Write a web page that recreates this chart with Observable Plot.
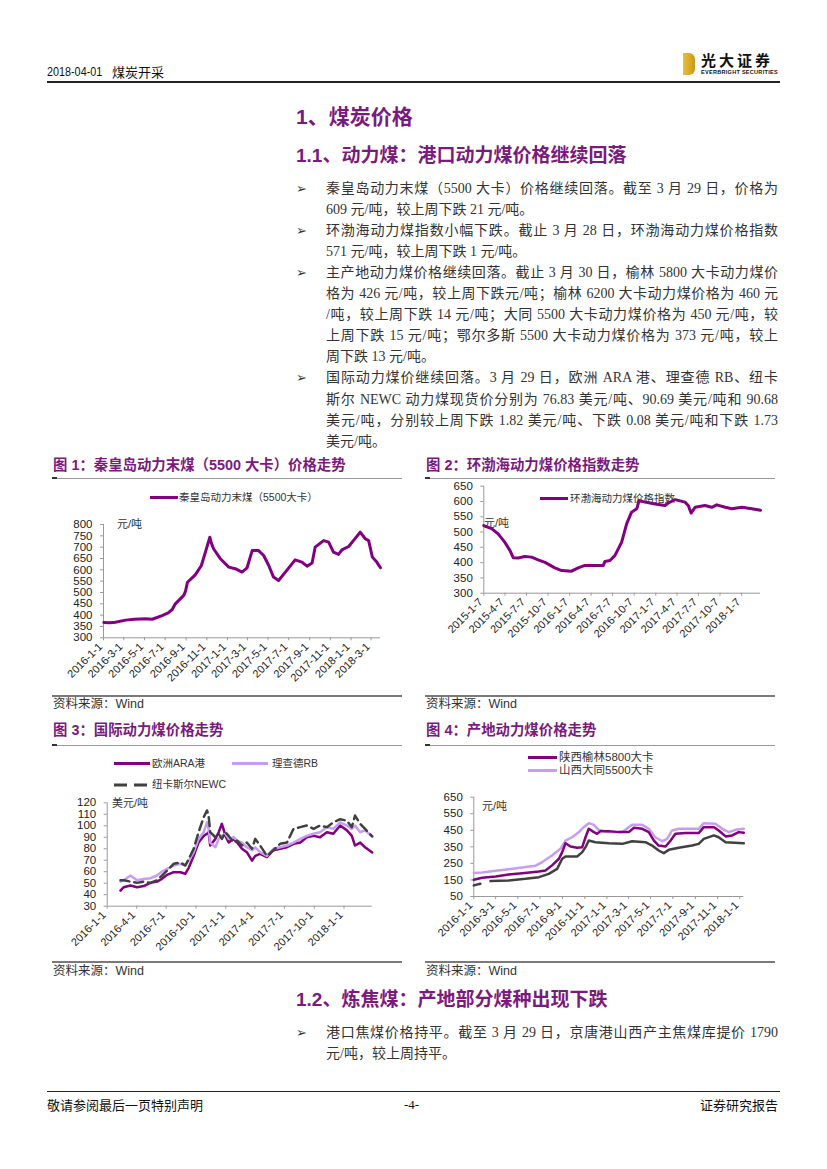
<!DOCTYPE html>
<html><head><meta charset="utf-8">
<script src="https://cdn.jsdelivr.net/npm/d3@7"></script>
<script src="https://cdn.jsdelivr.net/npm/@observablehq/plot@0.6"></script>
<style>
body{margin:0;background:#fff;}
#page{position:relative;width:827px;height:1169px;background:#fff;overflow:hidden;font-family:"Liberation Serif","Noto Sans CJK SC",serif;color:#333;}
.abs{position:absolute;white-space:nowrap;}
.h{color:#7B1A7E;font-family:"Liberation Sans","Noto Sans CJK SC",sans-serif;font-weight:bold;}
.line{position:absolute;left:326px;width:452px;height:21px;line-height:21px;font-size:14px;text-align:justify;text-align-last:justify;}
.line.last{text-align-last:left;}
.bul{position:absolute;left:296px;font-size:13px;line-height:21px;font-family:"DejaVu Sans",sans-serif;color:#333;}
.ct{position:absolute;font-size:14.4px;line-height:18px;}
.sep{position:absolute;height:1px;background:#9a9a9a;}
.sep2{position:absolute;height:2px;background:#7a7a7a;}
.src{position:absolute;font-size:12.5px;line-height:16px;font-family:"Liberation Sans","Noto Sans CJK SC",sans-serif;color:#333;}
.lg{position:absolute;font-size:10.5px;line-height:14px;font-family:"Liberation Sans","Noto Sans CJK SC",sans-serif;color:#333;white-space:nowrap;}
.sw{position:absolute;height:3px;}
.unit{position:absolute;font-size:11px;line-height:14px;font-family:"Liberation Sans","Noto Sans CJK SC",sans-serif;color:#333;white-space:nowrap;}
</style></head>
<body><div id="page"></div>
<script>
// ---------------- data ----------------
// 图1 秦皇岛动力末煤(5500大卡) 元/吨
const qhdDates = ["2016-01-02","2016-01-20","2016-02-05","2016-03-06","2016-04-01","2016-05-04","2016-05-24","2016-06-22","2016-07-10","2016-07-22","2016-07-31","2016-08-25","2016-08-30","2016-09-05","2016-09-28","2016-10-16","2016-10-28","2016-11-10","2016-11-14","2016-11-21","2016-12-11","2017-01-05","2017-01-24","2017-02-13","2017-02-28","2017-03-15","2017-04-03","2017-04-18","2017-05-03","2017-05-17","2017-06-01","2017-06-21","2017-07-20","2017-08-09","2017-08-24","2017-09-08","2017-09-17","2017-10-12","2017-10-27","2017-11-10","2017-11-25","2017-12-05","2017-12-25","2018-01-08","2018-01-28","2018-02-12","2018-02-22","2018-03-05","2018-03-18","2018-03-29"];
const qhdValues = [368,366,369,378,382,384,382,398,410,425,450,487,505,545,578,619,678,744,720,693,649,612,605,590,609,685,685,663,619,568,553,590,644,634,616,630,700,729,722,678,668,688,703,729,766,737,729,656,634,609];
const x1Ticks = ["2016-1-1","2016-3-1","2016-5-1","2016-7-1","2016-9-1","2016-11-1","2017-1-1","2017-3-1","2017-5-1","2017-7-1","2017-9-1","2017-11-1","2018-1-1","2018-3-1"];
const y1Ticks = [300,350,400,450,500,550,600,650,700,750,800];

// 图2 环渤海动力煤价格指数 元/吨
const hbhDates = ["2015-01-07","2015-02-09","2015-03-09","2015-04-06","2015-04-28","2015-05-12","2015-06-02","2015-06-30","2015-07-29","2015-08-26","2015-09-24","2015-11-05","2015-12-04","2016-01-15","2016-02-12","2016-03-12","2016-05-29","2016-06-05","2016-06-26","2016-07-17","2016-08-15","2016-09-05","2016-09-26","2016-10-18","2016-10-28","2016-11-22","2017-01-04","2017-02-15","2017-03-01","2017-03-30","2017-05-11","2017-05-25","2017-06-06","2017-06-23","2017-08-04","2017-09-02","2017-09-23","2017-10-29","2017-11-26","2018-01-08","2018-02-19","2018-03-28"];
const hbhValues = [521,511,494,467,440,416,415,420,418,409,401,383,374,372,383,391,391,404,407,423,467,527,565,576,603,598,592,587,595,606,598,587,562,581,587,581,589,581,576,581,576,571];
const x2Ticks = ["2015-1-7","2015-4-7","2015-7-7","2015-10-7","2016-1-7","2016-4-7","2016-7-7","2016-10-7","2017-1-7","2017-4-7","2017-7-7","2017-10-7","2018-1-7"];
const y2Ticks = [300,350,400,450,500,550,600,650];

// 图3 国际动力煤 美元/吨
const intlDates = ["2016-02-11","2016-02-21","2016-03-13","2016-04-02","2016-04-23","2016-05-13","2016-06-03","2016-06-18","2016-07-04","2016-07-24","2016-08-14","2016-08-29","2016-09-09","2016-09-24","2016-10-09","2016-10-25","2016-11-04","2016-11-09","2016-11-14","2016-11-30","2016-12-10","2016-12-20","2016-12-31","2017-01-10","2017-01-25","2017-02-05","2017-02-20","2017-03-07","2017-03-23","2017-04-02","2017-04-17","2017-05-08","2017-05-28","2017-06-18","2017-07-09","2017-07-29","2017-08-19","2017-09-08","2017-09-29","2017-10-19","2017-11-09","2017-11-29","2017-12-20","2018-01-10","2018-01-25","2018-02-04","2018-02-20","2018-03-07","2018-03-29"];
const araValues = [43.6,46.5,48,46.5,47.5,50.3,51.4,53.8,57.3,59.6,59.6,58.2,63.6,73.8,85.4,91.2,93,94.4,82.8,88.6,94.4,101.7,91.2,85.4,88.6,85.4,80,77,69.7,73.8,75.6,72.6,78.7,80,81.3,84.3,85.4,90,91.2,90,94.4,93,100.2,96,91.2,82.8,85.4,81.3,76.8];
const rbValues = [51.4,52.6,56.7,52.6,53.7,54.3,56.7,60.2,62.5,65.4,66.9,65.4,69.7,77,88.6,94.4,103,97.3,85.4,81.3,88.6,91.2,93,88.6,90,87,85.4,81.3,78.7,81.3,77,73.8,80,81.3,82.8,85.4,88.6,91.2,93,94.4,98.8,97.3,103,100.2,97.3,100.2,94.4,96,90.7];
const newcValues = [52.6,52.6,51.4,50.3,51.4,50.3,52.6,56.7,61,66.9,68.1,65.4,71.2,80,94.4,107.5,113.3,108.9,94.4,90,93,88.6,94.4,91.2,85.4,87,82.8,85.4,80,88.6,82.8,73.8,78.7,84.3,85.4,97.3,98.8,100.2,97.3,100.2,98.8,103,105.7,104.5,98.8,108.9,101.7,97.3,90.7];
const x3Ticks = ["2016-1-1","2016-4-1","2016-7-1","2016-10-1","2017-1-1","2017-4-1","2017-7-1","2017-10-1","2018-1-1"];
const y3Ticks = [30,40,50,60,70,80,90,100,110,120];

// 图4 产地动力煤 元/吨
const ylDates = ["2016-01-01","2016-01-24","2016-03-01","2016-04-06","2016-05-13","2016-06-28","2016-07-16","2016-08-03","2016-08-22","2016-08-31","2016-09-09","2016-09-23","2016-10-11","2016-10-25","2016-11-03","2016-11-12","2016-11-26","2016-12-05","2016-12-14","2017-01-06","2017-02-02","2017-03-02","2017-03-16","2017-04-08","2017-04-26","2017-05-10","2017-05-23","2017-06-11","2017-06-25","2017-07-08","2017-08-05","2017-09-10","2017-09-24","2017-10-22","2017-11-04","2017-11-23","2017-12-11","2017-12-29","2018-01-12"];
const ylValues = [151,163,171,183,191,201,207,238,278,318,372,352,344,348,408,459,439,429,445,445,439,439,465,459,439,388,358,352,388,429,433,433,469,469,449,413,419,439,435];
const dtDates = ["2016-01-01","2016-01-24","2016-03-01","2016-04-06","2016-05-13","2016-06-19","2016-07-07","2016-08-03","2016-08-26","2016-09-09","2016-09-27","2016-10-16","2016-10-29","2016-11-12","2016-11-26","2016-12-09","2017-01-06","2017-02-12","2017-03-11","2017-04-08","2017-04-26","2017-05-14","2017-06-02","2017-06-15","2017-06-29","2017-07-17","2017-09-10","2017-09-24","2017-10-26","2017-11-14","2017-12-02","2017-12-20","2018-01-12"];
const dtValues = [192,195,205,215,225,236,258,298,338,388,408,439,469,493,483,453,439,439,483,483,459,408,384,398,449,459,459,493,489,459,439,453,459];
const ordDates = ["2016-01-01","2016-01-19","2016-01-30","2016-02-16","2016-04-06","2016-05-22","2016-06-28","2016-07-25","2016-08-17","2016-08-31","2016-09-09","2016-10-11","2016-10-25","2016-11-03","2016-11-12","2016-11-30","2017-01-06","2017-02-12","2017-03-11","2017-04-17","2017-05-05","2017-05-23","2017-06-06","2017-06-20","2017-07-17","2017-08-23","2017-09-10","2017-09-24","2017-10-22","2017-11-04","2017-11-23","2018-01-12"];
const ordValues = [117,127,null,143,147,157,167,187,217,278,292,292,318,348,388,378,372,368,384,378,358,328,312,332,344,358,368,398,419,408,378,372];
const x4Ticks = ["2016-1-1","2016-3-1","2016-5-1","2016-7-1","2016-9-1","2016-11-1","2017-1-1","2017-3-1","2017-5-1","2017-7-1","2017-9-1","2017-11-1","2018-1-1"];
const y4Ticks = [50,150,250,350,450,550,650];

const PURPLE = "#800080", LAV = "#C79DF2", DARK = "#404040";

// ---------------- page text ----------------
const page = document.getElementById("page");
function add(html, cls, style){ const d=document.createElement("div"); d.className=cls||""; d.innerHTML=html; Object.assign(d.style, style||{}); page.appendChild(d); return d; }

// header
add("2018-04-01", "abs", {left:"47px", top:"63px", fontSize:"13.5px", fontFamily:'"Liberation Sans",sans-serif', color:"#111", lineHeight:"18px", transform:"scaleX(0.8)", transformOrigin:"0 0"});
add("煤炭开采", "abs", {left:"112px", top:"63px", fontSize:"13px", fontFamily:'"Noto Sans CJK SC",sans-serif', color:"#111", lineHeight:"18px"});
add("", "abs", {left:"47px", top:"81px", width:"733px", height:"2px", background:"#222"});
// logo
add("", "abs", {left:"683px", top:"53px", width:"12px", height:"22px", background:"linear-gradient(90deg,#e8c13a,#c9981a)", borderRadius:"0 6px 6px 0"});
add("光大证券", "abs", {left:"701px", top:"51px", fontSize:"15px", fontWeight:"bold", letterSpacing:"3px", fontFamily:'"Noto Sans CJK SC",sans-serif', color:"#111", lineHeight:"18px"});
add("EVERBRIGHT SECURITIES", "abs", {left:"701px", top:"69px", fontSize:"5.5px", fontWeight:"bold", fontFamily:'"Liberation Sans",sans-serif', color:"#111", lineHeight:"7px", letterSpacing:"0.3px"});

// headings
add("1、煤炭价格", "abs h", {left:"296px", top:"104px", fontSize:"21px", lineHeight:"26px"});
add("1.1、动力煤：港口动力煤价格继续回落", "abs h", {left:"296px", top:"144px", fontSize:"19px", lineHeight:"24px"});

const bodyLines = [
 ["秦皇岛动力末煤（5500 大卡）价格继续回落。截至 3 月 29 日，价格为", true],
 ["609 元/吨，较上周下跌 21 元/吨。", false],
 ["环渤海动力煤指数小幅下跌。截止 3 月 28 日，环渤海动力煤价格指数", true],
 ["571 元/吨，较上周下跌 1 元/吨。", false],
 ["主产地动力煤价格继续回落。截止 3 月 30 日，榆林 5800 大卡动力煤价", true],
 ["格为 426 元/吨，较上周下跌元/吨；榆林 6200 大卡动力煤价格为 460 元", true],
 ["/吨，较上周下跌 14 元/吨；大同 5500 大卡动力煤价格为 450 元/吨，较", true],
 ["上周下跌 15 元/吨；鄂尔多斯 5500 大卡动力煤价格为 373 元/吨，较上", true],
 ["周下跌 13 元/吨。", false],
 ["国际动力煤价继续回落。3 月 29 日，欧洲 ARA 港、理查德 RB、纽卡", true],
 ["斯尔 NEWC 动力煤现货价分别为 76.83 美元/吨、90.69 美元/吨和 90.68", true],
 ["美元/吨，分别较上周下跌 1.82 美元/吨、下跌 0.08 美元/吨和下跌 1.73", true],
 ["美元/吨。", false]
];
const bulletAt = [0,2,4,9];
bodyLines.forEach((l,i)=>{
  const top = 188 + i*21.1 - 10.5;
  add(l[0], "line" + (l[1] ? "" : " last"), {top: top+"px"});
  if (bulletAt.includes(i)) add("➢", "bul", {top: top+"px"});
});

// chart titles & frames
function frame(x, yTitle, title, ySepTop, ySepBot, ySrc){
  add(title, "ct h", {left:(x+1)+"px", top:(yTitle-9)+"px", whiteSpace:"nowrap"});
  add("", "sep", {left:x+"px", top:ySepTop+"px", width:"350px"});
  add("", "abs", {left:x+"px", top:(ySepTop-1)+"px", width:"5px", height:"2px", background:"#333"});
  add("", "sep2", {left:x+"px", top:ySepBot+"px", width:"350px"});
  add("资料来源：Wind", "src", {left:(x+1)+"px", top:(ySrc-8)+"px"});
}
frame(52, 465, "图 1：秦皇岛动力末煤（5500 大卡）价格走势", 478, 695, 704);
frame(425, 465, "图 2：环渤海动力煤价格指数走势", 478, 695, 704);
frame(52, 730, "图 3：国际动力煤价格走势", 745, 961, 971);
frame(425, 730, "图 4：产地动力煤价格走势", 745, 961, 971);

// legends (HTML, under the svg)
function sw(x, y, w, color, dashed){
  if (dashed){
    add(`<svg width="${w}" height="4"><line x1="0" y1="2" x2="${w}" y2="2" stroke="${color}" stroke-width="3" stroke-dasharray="13,7"/></svg>`, "abs", {left:x+"px", top:(y-2)+"px", lineHeight:"0"});
  } else add("", "sw", {left:x+"px", top:(y-1.5)+"px", width:w+"px", background:color});
}
sw(150, 497, 28, PURPLE); add("秦皇岛动力末煤（5500大卡）", "lg", {left:"179px", top:"490px"});
sw(540, 498, 28, PURPLE); add("环渤海动力煤价格指数", "lg", {left:"570px", top:"491px"});
sw(114, 763, 36, PURPLE); add("欧洲ARA港", "lg", {left:"152px", top:"756px"});
sw(232, 763, 36, LAV); add("理查德RB", "lg", {left:"272px", top:"756px"});
sw(114, 784, 36, DARK, true); add("纽卡斯尔NEWC", "lg", {left:"152px", top:"777px"});
sw(528, 757.5, 29, PURPLE); add("陕西榆林5800大卡", "lg", {left:"559px", top:"750px", fontSize:"11.5px"});
sw(528, 770, 29, LAV); add("山西大同5500大卡", "lg", {left:"559px", top:"763px", fontSize:"11.5px"});

// units
add("元/吨", "unit", {left:"117px", top:"517px"});
add("元/吨", "unit", {left:"484px", top:"516px"});
add("美元/吨", "unit", {left:"112px", top:"796px"});
add("元/吨", "unit", {left:"482px", top:"799px"});

// section 1.2
add("1.2、炼焦煤：产地部分煤种出现下跌", "abs h", {left:"296px", top:"988px", fontSize:"19px", lineHeight:"24px"});
add("港口焦煤价格持平。截至 3 月 29 日，京唐港山西产主焦煤库提价 1790", "line", {top:(1032-10.5)+"px"});
add("➢", "bul", {top:(1032-10.5)+"px"});
add("元/吨，较上周持平。", "line last", {top:(1053-10.5)+"px"});

// footer
add("", "abs", {left:"47px", top:"1091px", width:"733px", height:"1px", background:"#222"});
add("敬请参阅最后一页特别声明", "abs", {left:"47px", top:"1097px", fontSize:"13px", lineHeight:"16px", fontFamily:'"Noto Sans CJK SC",sans-serif', color:"#111"});
add("-4-", "abs", {left:"404px", top:"1097px", fontSize:"13px", lineHeight:"16px", fontFamily:'"Liberation Serif",serif', color:"#111"});
add("证券研究报告", "abs", {left:"700px", top:"1097px", fontSize:"13px", lineHeight:"16px", fontFamily:'"Noto Sans CJK SC",sans-serif', color:"#111"});

// ---------------- charts ----------------
const P = d3.utcParse("%Y-%m-%d");
const F = d3.utcFormat("%Y-%-m-%-d");

function chart(o){
  const xt = o.xt.map(P);
  const svg = Plot.plot({
    width:o.w, height:o.h, marginLeft:o.ml, marginRight:o.mr, marginTop:o.mt, marginBottom:o.mb,
    x:{type:"utc", domain:o.xd.map(P)},
    y:{domain:o.yd},
    style:{fontFamily:'"Liberation Sans","Noto Sans CJK SC",sans-serif', fontSize:"11.5px", color:"#222", background:"transparent", overflow:"visible"},
    marks:[
      Plot.ruleX([P(o.xd[0])], {stroke:"#999"}),
      Plot.ruleY([o.yd[0]], {stroke:"#999"}),
      Plot.axisY({ticks:o.yt, tickSize:3, tickPadding:8, label:null, stroke:"#999", fill:"#222"}),
      Plot.axisX({ticks:xt, tickSize:3, label:null, stroke:"#999", fill:"none"}),
      Plot.axisX({ticks:xt, tickSize:0, tickPadding:o.tp, tickRotate:-45, tickFormat:F, label:null, fill:"#222", dx:-3, fontSize:o.fs}),
      ...o.marks
    ]
  });
  svg.style.position = "absolute";
  svg.style.left = o.left + "px";
  svg.style.top = o.top + "px";
  svg.style.maxWidth = "none";
  page.appendChild(svg);
}

chart({left:40, top:500, w:360, h:195, ml:63, mr:20, mt:24, mb:57.7,
  xd:["2016-01-01","2018-03-29"], yd:[300,800], yt:y1Ticks, xt:x1Ticks, tp:7, fs:11,
  marks:[Plot.line(qhdValues, {x:qhdDates.map(P), y:qhdValues, stroke:PURPLE, strokeWidth:3})]});

chart({left:415, top:480, w:360, h:215, ml:68.3, mr:15, mt:5.7, mb:102.3,
  xd:["2015-01-07","2018-03-28"], yd:[300,650], yt:y2Ticks, xt:x2Ticks, tp:7, fs:11,
  marks:[Plot.line(hbhValues, {x:hbhDates.map(P), y:hbhValues, stroke:PURPLE, strokeWidth:3})]});

chart({left:40, top:795, w:360, h:165, ml:66.7, mr:28.3, mt:7.3, mb:54.3,
  xd:["2016-01-01","2018-03-29"], yd:[30,120], yt:y3Ticks, xt:x3Ticks, tp:7, fs:11,
  marks:[
    Plot.line(araValues, {x:intlDates.map(P), y:araValues, stroke:PURPLE, strokeWidth:2.5}),
    Plot.line(rbValues, {x:intlDates.map(P), y:rbValues, stroke:LAV, strokeWidth:2.5}),
    Plot.line(newcValues, {x:intlDates.map(P), y:newcValues, stroke:DARK, strokeWidth:2.5, strokeDasharray:"9,5"})
  ]});

chart({left:415, top:790, w:360, h:170, ml:58.3, mr:31.7, mt:6.7, mb:64,
  xd:["2016-01-01","2018-01-12"], yd:[50,650], yt:y4Ticks, xt:x4Ticks, tp:7, fs:11,
  marks:[
    Plot.line(dtValues, {x:dtDates.map(P), y:dtValues, stroke:LAV, strokeWidth:2.5}),
    Plot.line(ylValues, {x:ylDates.map(P), y:ylValues, stroke:PURPLE, strokeWidth:2.5}),
    Plot.line(ordValues, {x:ordDates.map(P), y:ordValues, stroke:DARK, strokeWidth:2.5})
  ]});
</script>
</body></html>
